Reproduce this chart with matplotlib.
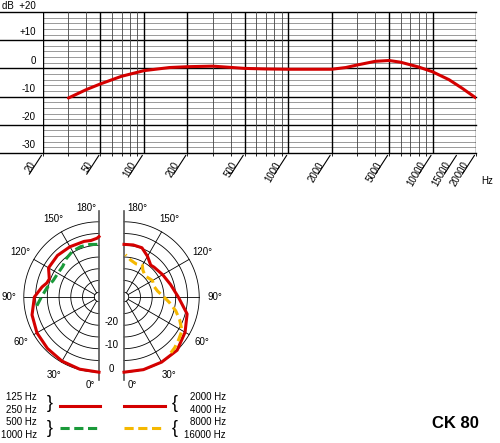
import numpy as np
import matplotlib
matplotlib.use("Agg")
import matplotlib.pyplot as plt

plt.rcParams['font.family'] = ['Liberation Sans', 'DejaVu Sans']

# frequency response
freq = [30, 40, 50, 70, 100, 150, 200, 300, 500, 700, 1000, 2000, 2500, 3000, 4000, 5000, 6000, 8000, 10000, 13000, 16000, 20000]
resp = [-10.5, -7.5, -5.5, -2.8, -0.8, 0.3, 0.6, 0.8, 0.0, -0.2, -0.3, -0.3, 0.3, 1.2, 2.5, 2.8, 2.2, 0.5, -1.2, -4.0, -7.0, -10.5]
freq_labels = [20, 50, 100, 200, 500, 1000, 2000, 5000, 10000, 15000, 20000]
db_labels = ["+10", "0", "-10", "-20", "-30"]
db_vals = [10, 0, -10, -20, -30]

# polar patterns (angle deg, dB)
ang_l_red = [0, 15, 30, 45, 60, 75, 90, 100, 105, 110, 115, 120, 135, 150, 165, 172, 178, 180]
db_l_red = [0, -0.2, -0.5, -1, -1.5, -2.5, -4.5, -7.4, -9, -9.5, -8.5, -7.2, -7, -7.3, -7.5, -7.7, -7, -6.3]
ang_l_grn = [82, 90, 100, 110, 120, 130, 140, 150, 160, 170, 180]
db_l_grn = [-5.3, -7.5, -9.5, -11.3, -11.8, -11.8, -10.5, -9.5, -9.2, -9.3, -9.6]
ang_r_red = [0, 15, 30, 45, 60, 75, 90, 105, 120, 135, 140, 150, 160, 170, 180]
db_r_red = [0, 0, 0, 0, -2, -4.2, -8.9, -11.5, -13, -14, -14.3, -12, -9.7, -9.5, -9.6]
ang_r_yel = [40, 45, 52, 60, 68, 75, 83, 90, 100, 110, 120, 135, 145, 150, 160, 170, 178]
db_r_yel = [-1.0, -1.5, -2.5, -3.5, -6.5, -9.2, -12.5, -15, -17.5, -18.5, -18, -19.3, -18, -16.4, -17, -16, -14]

fig = plt.figure(figsize=(5, 4.43), dpi=100)
W, H = 500, 443

# ---- top frequency chart ----
ax = fig.add_axes([43 / W, (H - 153) / H, 433 / W, 141 / H])
ax.set_xscale('log')
ax.set_xlim(20, 20000)
ax.set_ylim(-30, 20)
for v in range(-30, 21, 2):
    if v % 10:
        ax.axhline(v, color='#999999', lw=0.7, zorder=1)
for v in range(-30, 21, 10):
    ax.axhline(v, xmin=-43 / 433, xmax=1, color='black', lw=1.0, zorder=2, clip_on=False)
minor = []
for dec in [10, 100, 1000, 10000]:
    for m in range(1, 10):
        f = dec * m
        if 20 <= f <= 20000:
            minor.append(f)
for f in minor:
    strong = f in freq_labels
    ax.axvline(f, color='black' if strong else '#444444', lw=1.0 if strong else 0.6, zorder=2)
ax.plot(freq, resp, color='#d40000', lw=2.2, zorder=5, solid_capstyle='round')
for s in ax.spines.values():
    s.set_visible(False)
ax.set_xticks([])
ax.set_yticks([])
for f in freq_labels:
    ax.annotate('', xy=(f, -30), xycoords='data', xytext=(-11, -17), textcoords='offset points',
                arrowprops=dict(arrowstyle='-', color='black', lw=0.8))
    ax.annotate(str(f), xy=(f, -30), xytext=(-4, -5), textcoords='offset points',
                rotation=60, ha='right', va='top', fontsize=7)
for lab, v in zip(db_labels, db_vals):
    ax.annotate(lab, xy=(20, v), xytext=(-5, 2), textcoords='offset points', ha='right', va='bottom', fontsize=7)
ax.annotate('dB  +20', xy=(20, 20), xytext=(-5, 1), textcoords='offset points', ha='right', va='bottom', fontsize=7)
ax.annotate('Hz', xy=(1, 0), xycoords='axes fraction', xytext=(4, -22), textcoords='offset points', fontsize=7)

# ---- polar chart ----
px = 2.35
pa = fig.add_axes([0, 0, 250 / W, 253 / H])
pa.set_xlim((0 - 99) / px, (250 - 99) / px)
pa.set_ylim((297 - 443) / px, (297 - 190) / px)
pa.axis('off')
cr = 25 / px
R0 = 32.0


def r_of(db):
    return np.asarray(db) + R0


t = np.linspace(0, np.pi, 100)
for cx, sgn in [(0, -1), (cr, 1)]:
    for db in range(-30, 1, 5):
        r = db + R0
        pa.plot(cx + sgn * r * np.sin(t), -r * np.cos(t), color='black', lw=0.6)
    for a in [30, 60, 90, 120, 150]:
        ar = np.radians(a)
        pa.plot([cx + sgn * 2 * np.sin(ar), cx + sgn * R0 * np.sin(ar)],
                [-2 * np.cos(ar), -R0 * np.cos(ar)], color='black', lw=0.6)
    pa.plot([cx, cx], [-35.5, 36.5], color='#555555', lw=1.2)
    for a in [30, 60, 90, 120, 150]:
        ar = np.radians(a)
        pa.text(cx + sgn * 38.5 * np.sin(ar), -38.5 * np.cos(ar), f"{a}°", ha='center', va='center', fontsize=7)
    pa.text(cx + sgn * 3.5, -37.5, "0°", ha='center', va='center', fontsize=7)
    pa.text(cx + sgn * 5.5, 38, "180°", ha='center', va='center', fontsize=7)


def polar_xy(cx, sgn, ang, db):
    ar = np.radians(ang)
    r = r_of(db)
    return cx + sgn * r * np.sin(ar), -r * np.cos(ar)


x, y = polar_xy(0, -1, ang_l_red, db_l_red)
pa.plot(x, y, color='#d40000', lw=2.2)
x, y = polar_xy(0, -1, ang_l_grn, db_l_grn)
pa.plot(x, y, color='#1a9a3a', lw=2.2, ls=(0, (3, 1.5)))
x, y = polar_xy(cr, 1, ang_r_red, db_r_red)
pa.plot(x, y, color='#d40000', lw=2.2)
x, y = polar_xy(cr, 1, ang_r_yel, db_r_yel)
pa.plot(x, y, color='#f5b800', lw=2.2, ls=(0, (3, 1.5)))

for lab, db in [("-20", -20), ("-10", -10), ("0", 0)]:
    pa.text(cr / 2, -(db + R0) + 1.5, lab, ha='center', va='center', fontsize=7)

# legend
pa.plot([(60 - 99) / px, (100 - 99) / px], [-46.4, -46.4], color='#d40000', lw=2.2)
pa.plot([(60 - 99) / px, (100 - 99) / px], [-55.7, -55.7], color='#1a9a3a', lw=2.2, ls=(0, (3, 1.5)))
pa.plot([(124 - 99) / px, (165 - 99) / px], [-46.4, -46.4], color='#d40000', lw=2.2)
pa.plot([(124 - 99) / px, (165 - 99) / px], [-55.7, -55.7], color='#f5b800', lw=2.2, ls=(0, (3, 1.5)))
left_labels = ["125 Hz", "250 Hz", "500 Hz", "1000 Hz"]
right_labels = ["2000 Hz", "4000 Hz", "8000 Hz", "16000 Hz"]
ys = [-42.6, -48.1, -53.2, -58.7]
for lab, yy in zip(left_labels, ys):
    pa.text((37 - 99) / px, yy, lab, ha='right', va='center', fontsize=7)
for lab, yy in zip(right_labels, ys):
    pa.text((226 - 99) / px, yy, lab, ha='right', va='center', fontsize=7)
for yy in [-45.3, -56]:
    pa.text((50 - 99) / px, yy, "}", ha='center', va='center', fontsize=13, fontweight='light')
    pa.text((175 - 99) / px, yy, "{", ha='center', va='center', fontsize=13, fontweight='light')

fig.text(455 / W, 1 - 424 / H, "CK 80", ha='center', va='center', fontsize=12, fontweight='bold')

fig.savefig("out.png", dpi=100)
